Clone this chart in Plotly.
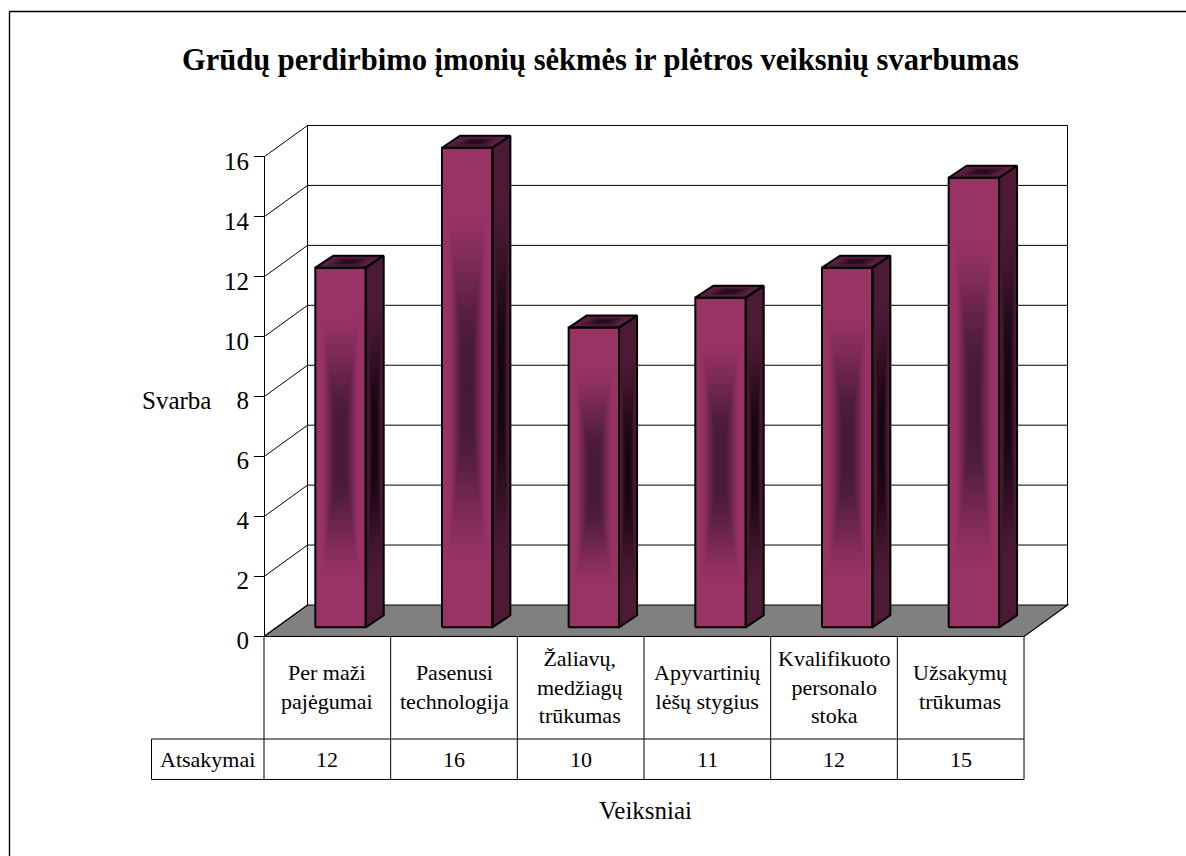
import plotly.graph_objects as go

# Chart content
TITLE = "Grūdų perdirbimo įmonių sėkmės ir plėtros veiksnių svarbumas"
Y_TITLE = "Svarba"
X_TITLE = "Veiksniai"
ROW_LABEL = "Atsakymai"
CATEGORY_LABELS = [
    "Per maži<br>pajėgumai",
    "Pasenusi<br>technologija",
    "Žaliavų,<br>medžiagų<br>trūkumas",
    "Apyvartinių<br>lėšų stygius",
    "Kvalifikuoto<br>personalo<br>stoka",
    "Užsakymų<br>trūkumas",
]
VALUES = [12, 16, 10, 11, 12, 15]
Y_TICKS = [0, 2, 4, 6, 8, 10, 12, 14, 16]

# Page and scale: one x unit is one category, one y unit is one answer
W, H = 1186, 856
PX_X, PX_Y = 126.67, 29.97
ORIGIN_X, ORIGIN_Y = 264.0, 636.5

# Oblique projection of the box and of each column, in axis units
WALL_DX, WALL_DY = 43.5 / PX_X, 31.5 / PX_Y
BAR_OFFSET_X, BAR_BASE = 0.604, 0.307
BAR_W = 50.4 / PX_X
BAR_DX, BAR_DY = 18.0 / PX_X, 12.0 / PX_Y

# Lower edges of the two table rows, and the left edge of the row label cell
ROW1_Y, ROW2_Y = -3.42, -4.77
ROW_LABEL_X = -0.888

FONT = "Liberation Serif"
LEVELS = 40
SHADE_CORE, SHADE_EDGE = 0.12, 0.80


def paper_x(px):
    return px / W


def paper_y(py):
    return 1 - py / H


def mix(a, b, f):
    return "rgb(%d,%d,%d)" % tuple(round(a[i] + (b[i] - a[i]) * f) for i in range(3))


def shade(scale, dark, light):
    """Colour of a nested outline: dark in the core, easing to light near the face edge."""
    f = min(1.0, max(0.0, (scale - SHADE_CORE) / (SHADE_EDGE - SHADE_CORE)))
    return mix(dark, light, f * f * (3 - 2 * f))


def nested(corners, scale):
    cx = sum(p[0] for p in corners) / 4
    cy = sum(p[1] for p in corners) / 4
    pts = [(cx + (x - cx) * scale, cy + (y - cy) * scale) for x, y in corners]
    return pts + [pts[0]]


def faces(i, v):
    x0 = i + BAR_OFFSET_X - BAR_W / 2
    x1 = x0 + BAR_W
    y0 = BAR_BASE
    y1 = BAR_BASE + v
    front = [(x0, y0), (x1, y0), (x1, y1), (x0, y1)]
    side = [(x1, y0), (x1 + BAR_DX, y0 + BAR_DY), (x1 + BAR_DX, y1 + BAR_DY), (x1, y1)]
    top = [(x0, y1), (x1, y1), (x1 + BAR_DX, y1 + BAR_DY), (x0 + BAR_DX, y1 + BAR_DY)]
    return {"front": front, "side": side, "top": top}


FACE_COLOURS = {
    "front": ((70, 26, 56), (153, 51, 102)),
    "side": ((22, 7, 16), (77, 26, 54)),
    "top": ((38, 13, 30), (92, 32, 68)),
}

fig = go.Figure()

# Front faces carry the values directly
fig.add_trace(go.Bar(
    x=[i + BAR_OFFSET_X for i in range(len(VALUES))],
    y=VALUES,
    base=[BAR_BASE] * len(VALUES),
    width=BAR_W,
    marker=dict(color="#993366", line=dict(width=0)),
    hoverinfo="skip",
))

# Side and top faces start flat, then every face gets its nested shading
for name in ("side", "top"):
    xs, ys = [], []
    for i, v in enumerate(VALUES):
        for x, y in nested(faces(i, v)[name], 1.0):
            xs.append(x)
            ys.append(y)
        xs.append(None)
        ys.append(None)
    fig.add_trace(go.Scatter(
        x=xs, y=ys, mode="lines", fill="toself", line=dict(width=0),
        fillcolor=mix(*FACE_COLOURS[name], 1.0), hoverinfo="skip",
    ))

for name, (dark, light) in FACE_COLOURS.items():
    for k in range(1, LEVELS):
        s = 1 - k / LEVELS
        if s > SHADE_EDGE:
            continue
        xs, ys = [], []
        for i, v in enumerate(VALUES):
            for x, y in nested(faces(i, v)[name], s):
                xs.append(x)
                ys.append(y)
            xs.append(None)
            ys.append(None)
        fig.add_trace(go.Scatter(
            x=xs, y=ys, mode="lines", fill="toself", line=dict(width=0),
            fillcolor=shade(s, dark, light), hoverinfo="skip",
        ))

# Column outlines on top of the shading
xs, ys = [], []
for i, v in enumerate(VALUES):
    for face in faces(i, v).values():
        for x, y in nested(face, 1.0):
            xs.append(x)
            ys.append(y)
        xs.append(None)
        ys.append(None)
fig.add_trace(go.Scatter(
    x=xs, y=ys, mode="lines", line=dict(color="#000000", width=2), hoverinfo="skip",
))

# Table grid under the plot box
tx, ty = [], []
for c in range(len(VALUES) + 1):
    tx += [c, c, None]
    ty += [0, ROW2_Y, None]
tx += [ROW_LABEL_X, len(VALUES), None, ROW_LABEL_X, len(VALUES), None, ROW_LABEL_X, ROW_LABEL_X]
ty += [ROW1_Y, ROW1_Y, None, ROW2_Y, ROW2_Y, None, ROW1_Y, ROW2_Y]
fig.add_trace(go.Scatter(
    x=tx, y=ty, mode="lines", line=dict(color="#000000", width=1), hoverinfo="skip",
))

# Carries the value axis drawn at the front left corner of the box
fig.add_trace(go.Scatter(
    x=[0, 0], y=[Y_TICKS[0], Y_TICKS[-1]], yaxis="y2", mode="lines",
    line=dict(width=0), hoverinfo="skip",
))

# Floor, back wall and gridlines stay behind the columns
n = len(VALUES)
shapes = [
    dict(type="path", xref="x", yref="y", layer="below",
         path=f"M 0 0 L {n} 0 L {n + WALL_DX} {WALL_DY} L {WALL_DX} {WALL_DY} Z",
         fillcolor="#808080", line=dict(color="#000000", width=1.2)),
]


def below_line(x0, y0, x1, y1, width=1.0):
    return dict(type="line", xref="x", yref="y", layer="below",
                x0=x0, y0=y0, x1=x1, y1=y1, line=dict(color="#000000", width=width))


for t in Y_TICKS:
    shapes.append(below_line(0, t, WALL_DX, t + WALL_DY))
    if t > 0:
        shapes.append(below_line(WALL_DX, t + WALL_DY, n + WALL_DX, t + WALL_DY))
top_tick = Y_TICKS[-1]
shapes.append(below_line(WALL_DX, WALL_DY, WALL_DX, top_tick + WALL_DY))
shapes.append(below_line(n + WALL_DX, WALL_DY, n + WALL_DX, top_tick + WALL_DY))

# Page frame: top and left rules only
for x0, y0, x1, y1 in [(9.5, 11.5, W, 11.5), (9.5, 11.5, 9.5, H)]:
    shapes.append(dict(type="line", xref="paper", yref="paper", layer="below",
                       x0=paper_x(x0), x1=paper_x(x1), y0=paper_y(y0), y1=paper_y(y1),
                       line=dict(color="#000000", width=1.4)))

# Title, category cells, value row and axis captions
CELL_SIZE = 22


def note(x, y, text, size, xref="paper", yref="paper"):
    return dict(x=x, y=y, xref=xref, yref=yref, text=text, showarrow=False,
                xanchor="center", yanchor="middle", font=dict(size=size))


annotations = [note(paper_x(600), paper_y(60), f"<b>{TITLE}</b>", 30.5)]
for i, (label, v) in enumerate(zip(CATEGORY_LABELS, VALUES)):
    annotations.append(note(i + 0.5, ROW1_Y / 2 + 0.04, label, CELL_SIZE, "x", "y"))
    annotations.append(note(i + 0.5, (ROW1_Y + ROW2_Y) / 2, str(v), CELL_SIZE, "x", "y"))
annotations.append(note(ROW_LABEL_X / 2, (ROW1_Y + ROW2_Y) / 2, ROW_LABEL, CELL_SIZE, "x", "y"))
annotations.append(note(paper_x(176), paper_y(400), Y_TITLE, 25))
annotations.append(note(paper_x(645), paper_y(810), X_TITLE, 25))

fig.update_layout(
    width=W,
    height=H,
    margin=dict(l=0, r=0, t=0, b=0, autoexpand=False),
    paper_bgcolor="#ffffff",
    plot_bgcolor="rgba(0,0,0,0)",
    showlegend=False,
    font=dict(family=FONT, color="#000000"),
    xaxis=dict(visible=False, domain=[0, 1], fixedrange=True, automargin=False,
               range=[-ORIGIN_X / PX_X, (W - ORIGIN_X) / PX_X]),
    yaxis=dict(visible=False, domain=[0, 1], fixedrange=True, automargin=False,
               range=[(ORIGIN_Y - H) / PX_Y, ORIGIN_Y / PX_Y]),
    yaxis2=dict(
        anchor="free", position=paper_x(ORIGIN_X), side="left", fixedrange=True, automargin=False,
        domain=[paper_y(ORIGIN_Y), paper_y(ORIGIN_Y - top_tick * PX_Y)],
        range=[0, top_tick], tickvals=Y_TICKS, ticks="outside", ticklen=10,
        tickcolor="#000000", tickwidth=1, showline=True, linecolor="#000000", linewidth=1.2,
        ticklabelshift=4,
        showgrid=False, zeroline=False, tickfont=dict(family=FONT, size=25, color="#000000"),
    ),
    shapes=shapes,
    annotations=annotations,
)

fig.write_html("out.html", config={"displayModeBar": False})
